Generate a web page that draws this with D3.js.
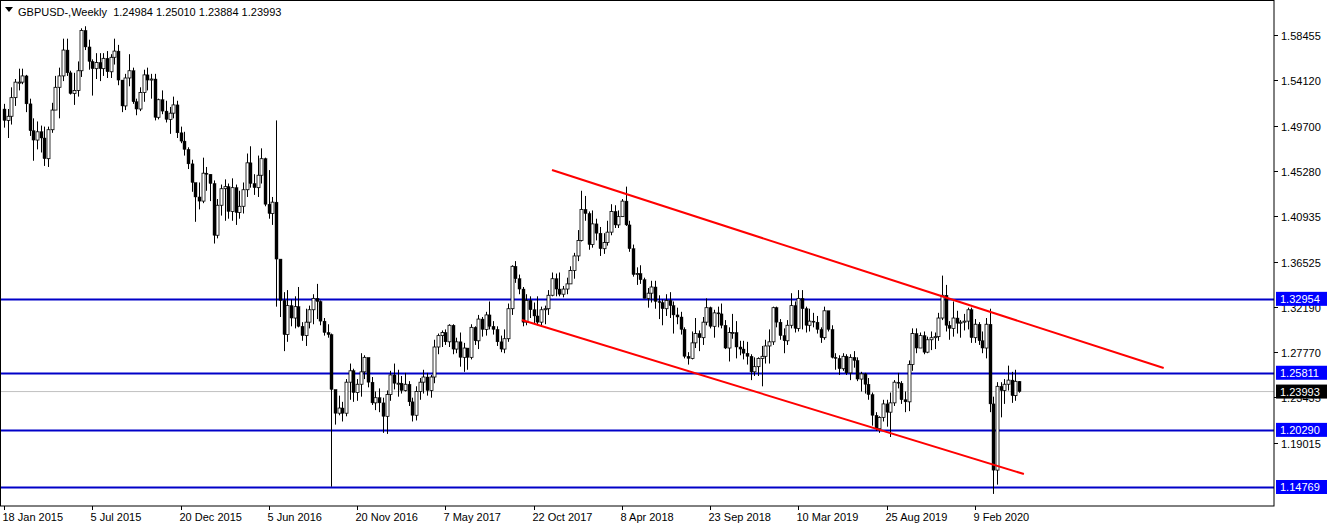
<!DOCTYPE html>
<html><head><meta charset="utf-8">
<script src="https://cdn.jsdelivr.net/npm/d3@7"></script>
<style>body{margin:0;background:#fff;}svg{display:block;font-family:"Liberation Sans",Arial,sans-serif;}</style>
</head><body><svg id="c" width="1332" height="528"></svg>
<script>
const firstOpen = 1.513;
const closes = [1.502,1.506,1.524,1.539,1.539,1.545,1.518,1.492,1.483,1.491,1.485,1.465,1.493,1.512,1.534,1.545,1.570,1.548,1.528,1.531,1.550,1.589,1.573,1.559,1.552,1.558,1.552,1.562,1.549,1.563,1.569,1.541,1.516,1.543,1.550,1.520,1.513,1.529,1.546,1.541,1.542,1.505,1.522,1.511,1.503,1.509,1.517,1.490,1.482,1.474,
1.460,1.442,1.428,1.424,1.451,1.450,1.441,1.391,1.420,1.436,1.438,1.414,1.437,1.413,1.419,1.435,1.461,1.441,1.437,1.449,1.465,1.421,1.412,1.423,1.368,1.328,1.295,1.323,1.311,1.322,1.303,1.294,1.307,1.319,1.330,1.327,1.308,1.297,1.295,1.242,1.219,1.224,1.219,1.249,1.260,1.239,1.247,1.259,1.273,1.249,1.229,1.234,
1.229,1.216,1.237,1.256,1.248,1.248,1.241,1.247,1.230,1.217,1.240,1.249,1.254,1.241,1.254,1.283,1.294,1.297,1.288,1.304,1.281,1.288,1.273,1.282,1.273,1.302,1.289,1.310,1.300,1.314,1.303,1.300,1.288,1.281,1.291,1.320,1.361,1.349,1.339,1.307,1.328,1.319,1.313,1.307,1.319,1.320,1.333,1.349,1.339,1.334,1.339,1.344,
1.357,1.371,1.386,1.416,1.412,1.382,1.402,1.393,1.378,1.384,1.394,1.414,1.401,1.409,1.424,1.401,1.378,1.353,1.354,1.348,1.330,1.335,1.341,1.327,1.326,1.320,1.328,1.323,1.314,1.312,1.300,1.274,1.272,1.287,1.296,1.292,1.307,1.321,1.303,1.316,1.315,1.304,1.282,1.297,1.297,1.283,1.281,1.277,1.274,1.259,1.264,1.272,
1.274,1.284,1.288,1.321,1.307,1.294,1.289,1.304,1.323,1.301,1.330,1.320,1.304,1.308,1.307,1.300,1.292,1.318,1.300,1.273,1.272,1.262,1.274,1.258,1.273,1.270,1.252,1.257,1.247,1.237,1.217,1.204,1.215,1.228,1.220,1.229,1.249,1.248,1.232,1.230,1.266,1.296,1.282,1.294,1.278,1.290,1.292,1.293,1.311,1.333,1.304,1.301,
1.311,1.306,1.307,1.308,1.319,1.292,1.305,1.289,1.282,1.305,1.228,1.164,1.245,1.241,1.247,1.251,1.236,1.24984,1.23993];
const highs = [1.518,1.513,1.534,1.542,1.552,1.552,1.546,1.523,1.504,1.501,1.497,1.496,1.496,1.519,1.545,1.553,1.581,1.581,1.550,1.548,1.559,1.591,1.593,1.580,1.561,1.567,1.567,1.567,1.569,1.566,1.581,1.575,1.541,1.547,1.566,1.553,1.523,1.534,1.551,1.553,1.547,1.547,1.523,1.531,1.521,1.515,1.525,1.521,1.496,1.491,
1.476,1.464,1.441,1.442,1.466,1.457,1.450,1.444,1.426,1.440,1.445,1.441,1.446,1.440,1.434,1.442,1.470,1.477,1.450,1.468,1.475,1.466,1.454,1.428,1.502,1.355,1.336,1.338,1.329,1.332,1.341,1.307,1.320,1.323,1.334,1.344,1.328,1.311,1.305,1.296,1.234,1.236,1.230,1.252,1.267,1.262,1.252,1.277,1.275,1.269,1.254,1.240,
1.243,1.234,1.241,1.260,1.267,1.261,1.255,1.258,1.250,1.234,1.245,1.253,1.261,1.258,1.256,1.290,1.296,1.299,1.300,1.305,1.305,1.292,1.297,1.287,1.281,1.305,1.303,1.314,1.312,1.317,1.327,1.308,1.303,1.294,1.300,1.325,1.362,1.366,1.353,1.341,1.334,1.332,1.326,1.332,1.322,1.323,1.338,1.355,1.354,1.355,1.342,1.350,
1.361,1.374,1.396,1.434,1.429,1.414,1.415,1.407,1.399,1.393,1.405,1.421,1.420,1.415,1.426,1.438,1.405,1.382,1.360,1.362,1.350,1.340,1.347,1.347,1.333,1.329,1.334,1.336,1.327,1.321,1.317,1.302,1.278,1.298,1.311,1.299,1.312,1.330,1.322,1.319,1.322,1.325,1.309,1.302,1.315,1.308,1.289,1.289,1.288,1.276,1.273,1.273,
1.284,1.290,1.300,1.322,1.322,1.310,1.301,1.309,1.335,1.327,1.338,1.338,1.322,1.320,1.316,1.313,1.302,1.322,1.318,1.304,1.277,1.275,1.277,1.276,1.276,1.279,1.273,1.259,1.258,1.253,1.239,1.220,1.216,1.232,1.232,1.239,1.251,1.258,1.250,1.240,1.270,1.301,1.301,1.297,1.298,1.293,1.298,1.297,1.316,1.352,1.343,1.308,
1.327,1.318,1.309,1.315,1.321,1.321,1.310,1.307,1.298,1.311,1.320,1.235,1.249,1.249,1.252,1.265,1.259,1.261,1.2501];
const lows = [1.495,1.485,1.498,1.516,1.531,1.537,1.510,1.487,1.463,1.474,1.471,1.458,1.457,1.490,1.512,1.504,1.540,1.545,1.527,1.517,1.525,1.544,1.570,1.551,1.526,1.542,1.540,1.545,1.543,1.543,1.556,1.536,1.510,1.512,1.535,1.518,1.507,1.511,1.520,1.531,1.523,1.502,1.503,1.508,1.500,1.489,1.504,1.485,1.480,1.468,
1.455,1.433,1.404,1.416,1.422,1.434,1.424,1.383,1.388,1.410,1.405,1.407,1.405,1.401,1.407,1.412,1.428,1.437,1.430,1.428,1.441,1.419,1.407,1.401,1.322,1.312,1.279,1.288,1.303,1.301,1.302,1.289,1.284,1.301,1.305,1.310,1.304,1.294,1.292,1.148,1.208,1.217,1.211,1.216,1.232,1.230,1.231,1.235,1.252,1.244,1.227,1.222,
1.220,1.200,1.199,1.231,1.242,1.235,1.238,1.240,1.226,1.211,1.212,1.232,1.238,1.236,1.234,1.248,1.276,1.283,1.285,1.283,1.276,1.277,1.264,1.259,1.261,1.271,1.285,1.281,1.293,1.294,1.300,1.295,1.284,1.278,1.277,1.288,1.314,1.345,1.334,1.303,1.304,1.311,1.306,1.304,1.303,1.305,1.314,1.332,1.332,1.332,1.331,1.334,
1.344,1.349,1.366,1.385,1.405,1.377,1.379,1.386,1.371,1.373,1.381,1.391,1.398,1.398,1.409,1.400,1.375,1.351,1.343,1.344,1.330,1.321,1.326,1.320,1.310,1.304,1.313,1.311,1.296,1.305,1.295,1.272,1.266,1.271,1.282,1.279,1.285,1.304,1.301,1.292,1.302,1.301,1.281,1.269,1.291,1.272,1.275,1.271,1.266,1.251,1.255,1.255,
1.245,1.267,1.267,1.285,1.302,1.290,1.277,1.285,1.301,1.297,1.298,1.300,1.297,1.298,1.302,1.296,1.287,1.290,1.298,1.272,1.261,1.256,1.260,1.256,1.251,1.263,1.250,1.240,1.238,1.232,1.207,1.202,1.200,1.211,1.206,1.196,1.226,1.243,1.228,1.220,1.221,1.260,1.277,1.283,1.276,1.277,1.280,1.281,1.289,1.309,1.298,1.290,
1.293,1.296,1.292,1.299,1.300,1.287,1.287,1.285,1.277,1.272,1.220,1.141,1.150,1.215,1.228,1.241,1.229,1.231,1.23884];
const dateLabels = ["18 Jan 2015","5 Jul 2015","20 Dec 2015","5 Jun 2016","20 Nov 2016","7 May 2017","22 Oct 2017","8 Apr 2018","23 Sep 2018","10 Mar 2019","25 Aug 2019","9 Feb 2020"];
const dateLabelIdx = [0,24,48,72,96,120,144,168,192,216,240,264];
const priceTicks = [1.58455,1.54120,1.49700,1.45280,1.40935,1.36525,1.32190,1.27770,1.23435,1.19015];
const levels = [1.32954,1.25811,1.20290,1.14769];
const lastPrice = 1.23993;
const channelUpper = [[149,1.4541],[315.3,1.2627]];
const channelLower = [[140.8,1.3091],[277.3,1.1602]];

const svg = d3.select("#c");
const W = 1274, H = 506;
const x = d3.scaleLinear().domain([0,1]).range([4,4+3.678]);
const y = d3.scaleLinear().domain([1.14769,1.58455]).range([487,35]);

const opens = closes.map((c,i)=> i===0 ? firstOpen : closes[i-1]);
const data = closes.map((c,i)=>({i,o:opens[i],c,h:highs[i],l:lows[i]}));

const g = svg.append("g");
// last price line
g.append("line").attr("x1",0).attr("x2",W).attr("y1",y(lastPrice)).attr("y2",y(lastPrice)).attr("stroke","#c0c0c0").attr("stroke-width",1);
// levels
levels.forEach(v=>g.append("line").attr("x1",0).attr("x2",W).attr("y1",Math.round(y(v))+0.5).attr("y2",Math.round(y(v))+0.5).attr("stroke","#0000c8").attr("stroke-width",2));
// candles
const cg = g.append("g");
data.forEach(d=>{
  const cx = Math.round(x(d.i))+0.5;
  cg.append("line").attr("x1",cx).attr("x2",cx).attr("y1",y(d.h)).attr("y2",y(d.l)).attr("stroke","#000").attr("stroke-width",1);
  const top = y(Math.max(d.o,d.c)), bot = y(Math.min(d.o,d.c));
  const up = d.c>=d.o;
  cg.append("rect").attr("x",cx-1.5).attr("y",top).attr("width",3).attr("height",Math.max(1,bot-top))
    .attr("fill",up?"#fff":"#000").attr("stroke","#000").attr("stroke-width",up?0.8:0.4);
});
// channel
[channelUpper,channelLower].forEach(seg=>g.append("line")
  .attr("x1",x(seg[0][0])).attr("y1",y(seg[0][1])).attr("x2",x(seg[1][0])).attr("y2",y(seg[1][1]))
  .attr("stroke","#ff0000").attr("stroke-width",2));

// frame
svg.append("rect").attr("x",0.5).attr("y",0.5).attr("width",W-0.5).attr("height",H-0.5).attr("fill","none").attr("stroke","#000");

// right axis
const ax = svg.append("g").attr("font-size",11).attr("fill","#000");
priceTicks.forEach(v=>{
  const yy = Math.round(y(v))+0.5;
  ax.append("line").attr("x1",W).attr("x2",W+4).attr("y1",yy).attr("y2",yy).attr("stroke","#000");
  ax.append("text").attr("x",W+7).attr("y",yy+4).text(v.toFixed(5));
});
levels.forEach(v=>{
  const yy = y(v);
  ax.append("rect").attr("x",W+2).attr("y",yy-7).attr("width",51).attr("height",14).attr("fill","#0000ff");
  ax.append("text").attr("x",W+6).attr("y",yy+4).attr("fill","#fff").text(v.toFixed(5));
});
ax.append("rect").attr("x",W+2).attr("y",y(lastPrice)-7).attr("width",51).attr("height",14).attr("fill","#000");
ax.append("text").attr("x",W+6).attr("y",y(lastPrice)+4).attr("fill","#fff").text(lastPrice.toFixed(5));

// bottom axis
dateLabels.forEach((t,k)=>{
  const xx = Math.round(x(dateLabelIdx[k]))+0.5;
  ax.append("line").attr("x1",xx).attr("x2",xx).attr("y1",H).attr("y2",H+4).attr("stroke","#000");
  ax.append("text").attr("x",xx-2).attr("y",H+15).text(t);
});

// title
svg.append("path").attr("d","M5,7 L13,7 L9,12 Z").attr("fill","#000");
svg.append("text").attr("x",18).attr("y",16).attr("font-size",11).text("GBPUSD-,Weekly  1.24984 1.25010 1.23884 1.23993").attr("xml:space","preserve").style("white-space","pre");
</script></body></html>
